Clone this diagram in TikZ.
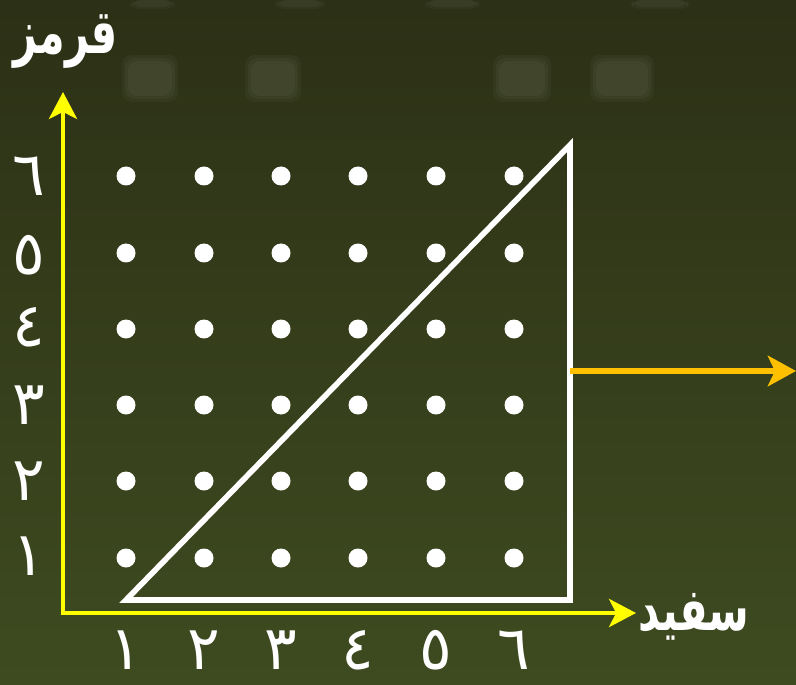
\documentclass[tikz,border=0pt]{standalone}
\usepackage{fontspec}
\usetikzlibrary{arrows.meta, positioning}
\TeXXeTstate=1
\newfontfamily\arabicfont[Script=Arabic]{DejaVu Sans}

\definecolor{boardtop}{RGB}{44,48,22}
\definecolor{boardbottom}{RGB}{62,75,32}
\definecolor{axisyellow}{RGB}{255,255,0}
\definecolor{arroworange}{RGB}{255,192,0}

\tikzset{
  axis arrow/.style={axisyellow, line width=3.6pt, line cap=rect,
    -{Stealth[length=23pt, width=24pt, inset=6pt]}},
  out arrow/.style={arroworange, line width=5pt,
    -{Stealth[length=24pt, width=26pt, inset=6pt]}},
  tri line/.style={white, line width=4.8pt, line join=miter},
  digit/.style={white, inner sep=0pt, font=\arabicfont\fontsize{52}{52}\selectfont},
  word/.style={white, inner sep=0pt, font=\arabicfont\bfseries\fontsize{36}{36}\selectfont},
  blurbox/.style={white, opacity=0.03, rounded corners=8pt}
}

\begin{document}
\begin{tikzpicture}[x=0.03cm,y=-0.03cm]
  % board
  \shade[top color=boardtop, bottom color=boardbottom] (0,0) rectangle (796,685);
  \useasboundingbox (0,0) rectangle (796,685);
  \foreach \bx/\bw in {122/56, 245/56, 493/58, 590/64}
    \foreach \s in {0,3,6}
      \fill[blurbox] (\bx+\s,55+\s) rectangle ++(\bw-2*\s,47-2*\s);
  \foreach \bx/\bw in {130/45, 275/50, 425/55, 630/60}
    \foreach \s in {0,2}
      \fill[blurbox] (\bx+\s,0) rectangle ++(\bw-2*\s,9-\s);

  % grid of points
  \def\cols{126,204,281,358,436,514}
  \def\rows{176,253,329,405,481,558}
  \foreach \x in \cols
    \foreach \y in \rows
      \fill[white] (\x,\y) circle (9.5);

  % axes
  \coordinate (origin) at (63,613);
  \coordinate (y-tip) at (63,92);
  \coordinate (x-tip) at (636,613);
  \draw[axis arrow] (origin) -- (y-tip);
  \draw[axis arrow] (origin) -- (x-tip);

  % triangle
  \coordinate (tri-a) at (126,600);
  \coordinate (tri-b) at (570,600);
  \coordinate (tri-c) at (570,145);
  \draw[tri line] (tri-a) -- (tri-b) -- (tri-c) -- cycle;

  \coordinate (out-tip) at (796,371);
  \draw[out arrow] (tri-c |- out-tip) -- (out-tip);

  % labels
  \foreach \n/\d/\x in {1/١/126, 2/٢/204, 3/٣/281, 4/٤/358, 5/٥/436, 6/٦/514}
    \node[digit] (xlab-\n) at (\x,650) {\d};
  \foreach \n/\d/\y in {1/١/556, 2/٢/481, 3/٣/405, 4/٤/327, 5/٥/255, 6/٦/176}
    \node[digit] (ylab-\n) at (29,\y) {\d};
  \node[word] (redlabel) at (66,42) {\scalebox{0.98}[1.45]{\beginR قرمز\endR}};
  \node[word] (whitelabel) at (694,617) {\scalebox{0.98}[1.4]{\beginR سفید\endR}};
\end{tikzpicture}
\end{document}
